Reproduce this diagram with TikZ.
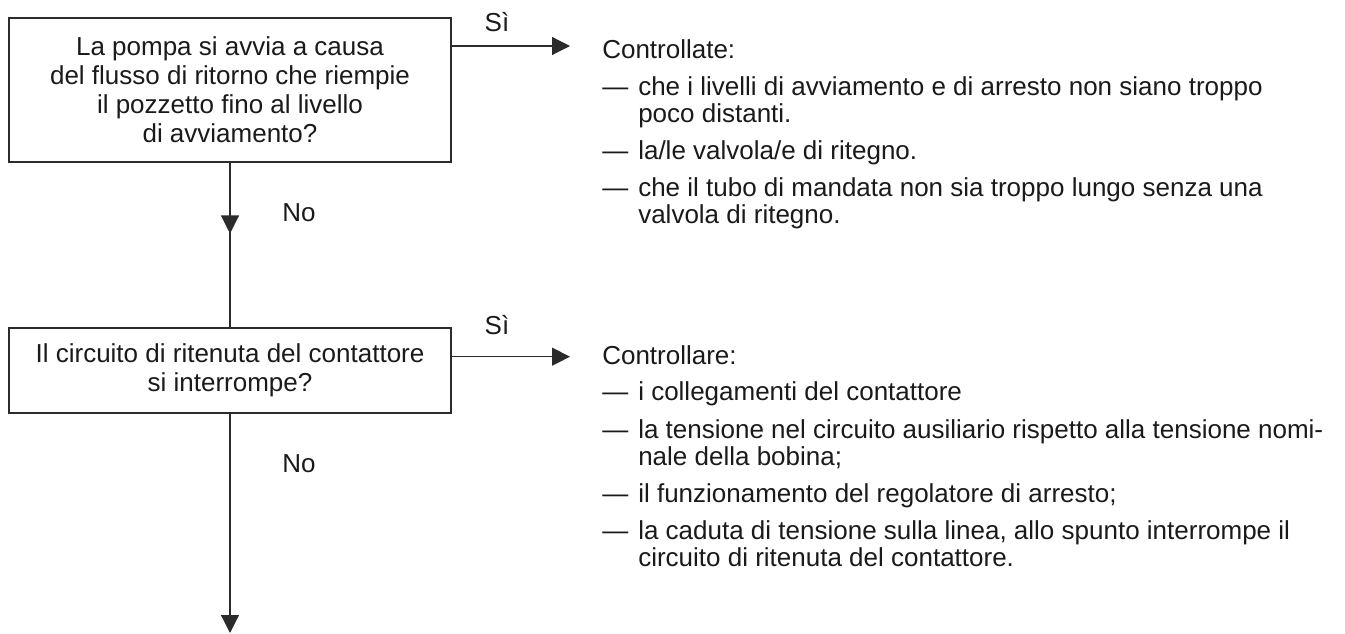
\documentclass[tikz,border=0pt]{standalone}
\usepackage{fontspec}
\setmainfont{Liberation Sans}
\usepackage{xcolor}
\usepackage{tikz}
\usetikzlibrary{arrows.meta,positioning,decorations.markings}
\definecolor{cLine}{HTML}{2B2B2B}
\definecolor{cText}{HTML}{1A1A1A}
\newcommand{\boxfont}{\fontsize{19.5pt}{21.75pt}\selectfont}
\newcommand{\txtfont}{\fontsize{19.5pt}{20.25pt}\selectfont}
\tikzset{
  qbox/.style  = {rectangle, draw=cLine, line width=1.1pt, minimum width=331.5pt,
                  align=center, inner sep=0pt, font=\boxfont, text=cText},
  flow/.style  = {-{Triangle[length=13.5pt,width=13.5pt]}, draw=cLine, line width=0.9pt},
  midflow/.style = {draw=cLine, line width=0.9pt, postaction={decorate},
                  decoration={markings, mark=at position #1 with
                  {\arrow{Triangle[length=13.5pt,width=13.5pt]}}}},
  lab/.style   = {anchor=base, inner sep=0pt, font=\txtfont, text=cText},
  labw/.style  = {anchor=base west, inner sep=0pt, font=\txtfont, text=cText},
  txt/.style   = {anchor=base west, inner sep=0pt, font=\txtfont, text=cText},
}

\begin{document}
\begin{tikzpicture}[x=0.75pt, y=-0.75pt]
  \useasboundingbox (0,0) rectangle (1345,634);

  % questions
  \node[qbox, minimum height=108pt] (q1) at (230,90)
    {La pompa si avvia a causa\\del flusso di ritorno che riempie\\il pozzetto fino al livello\\di avviamento?};
  \node[qbox, minimum height=63.75pt] (q2) at (230,370.5)
    {Il circuito di ritenuta del contattore\\si interrompe?};
  \coordinate (r1) at (570,46);
  \coordinate (r2) at (570,356.7);
  \coordinate (out) at (230,633);

  % connectors
  \draw[flow] (q1.east |- r1) -- (r1);
  \draw[flow] (q2.east |- r2) -- (r2);
  \draw[midflow=0.43] (q1.south) -- (q2.north);
  \draw[flow] (q2.south) -- (out);

  \node[lab]  (s1) at (497,32)  {Sì};
  \node[lab]  (s2) at (497,335) {Sì};
  \node[labw] (n1) at (282,222) {No};
  \node[labw] (n2) at (282,472) {No};

  % first answer
  \node[txt] (h1) at (602,59) {Controllate:};
  \foreach \y in {96,160,197}
    \node[txt] at (602,\y) {—};
  \node[txt] (a11) at (638,96)  {che i livelli di avviamento e di arresto non siano troppo};
  \node[txt] (a12) at (638,123) {poco distanti.};
  \node[txt] (a13) at (638,160) {la/le valvola/e di ritegno.};
  \node[txt] (a14) at (638,197) {che il tubo di mandata non sia troppo lungo senza una};
  \node[txt] (a15) at (638,224) {valvola di ritegno.};

  % second answer
  \node[txt] (h2) at (602,364) {Controllare:};
  \foreach \y in {401,438,502,539}
    \node[txt] at (602,\y) {—};
  \node[txt] (a21) at (638,401) {i collegamenti del contattore};
  \node[txt] (a22) at (638,438) {la tensione nel circuito ausiliario rispetto alla tensione nomi-};
  \node[txt] (a23) at (638,465) {nale della bobina;};
  \node[txt] (a24) at (638,502) {il funzionamento del regolatore di arresto;};
  \node[txt] (a25) at (638,539) {la caduta di tensione sulla linea, allo spunto interrompe il};
  \node[txt] (a26) at (638,566) {circuito di ritenuta del contattore.};
\end{tikzpicture}
\end{document}
